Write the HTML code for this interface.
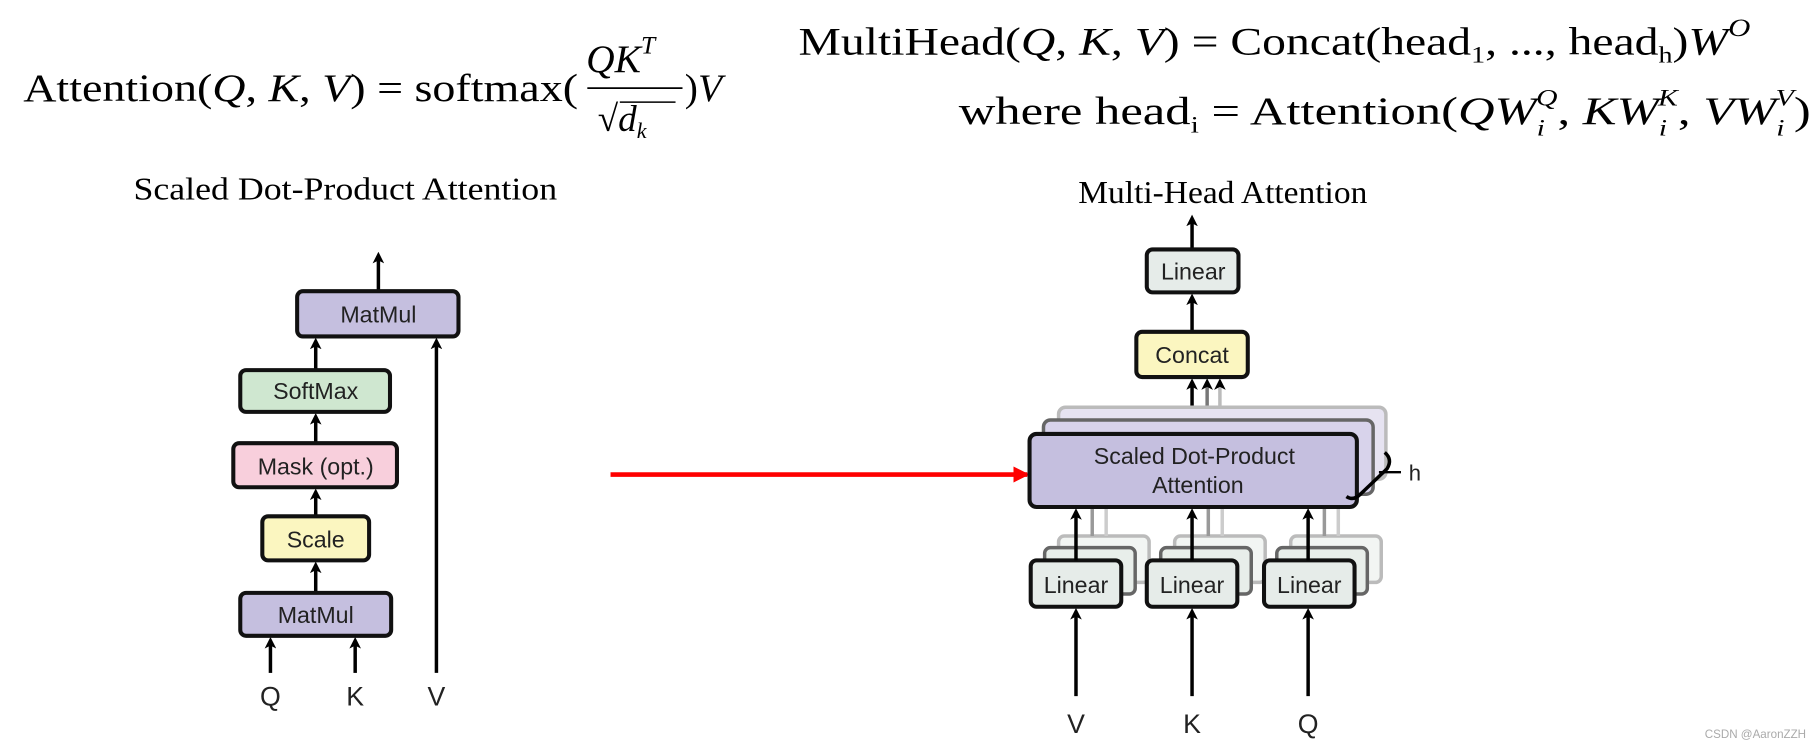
<!DOCTYPE html>
<html><head><meta charset="utf-8"><style>
html,body{margin:0;padding:0;background:#fff;}
svg{display:block}
.m{font-family:"Liberation Serif",serif;fill:#000}
.s{font-family:"Liberation Sans",sans-serif;fill:#222}
</style></head><body>
<svg width="1820" height="746" viewBox="0 0 1568 643" preserveAspectRatio="none" xmlns="http://www.w3.org/2000/svg">
<defs>
<marker id="a" markerWidth="10" markerHeight="10" refX="5" refY="5" orient="auto" markerUnits="userSpaceOnUse"><path d="M0,0 L10,5 L0,10 L2.5,5z" fill="#000"/></marker>
<marker id="r" markerWidth="14" markerHeight="14" refX="12" refY="7" orient="auto" markerUnits="userSpaceOnUse"><path d="M0,0 L14,7 L0,14z" fill="#f00"/></marker>
</defs>
<!-- formulas -->
<text class="m" x="20" y="87" font-size="34" textLength="478" lengthAdjust="spacingAndGlyphs">Attention(<tspan font-style="italic">Q</tspan>, <tspan font-style="italic">K</tspan>, <tspan font-style="italic">V</tspan>) = softmax(</text>
<text class="m" x="505" y="62" font-size="34" font-style="italic">QK<tspan font-size="22" dy="-16">T</tspan></text>
<line x1="506" y1="76" x2="588" y2="76" stroke="#000" stroke-width="1.5"/>
<text class="m" x="515" y="113" font-size="32">√<tspan font-style="italic">d</tspan><tspan font-size="19" font-style="italic" dy="6">k</tspan></text>
<line x1="534" y1="88" x2="582" y2="88" stroke="#000" stroke-width="1.3"/>
<text class="m" x="590" y="87" font-size="34">)<tspan font-style="italic">V</tspan></text>
<text class="m" x="688" y="47" font-size="34" textLength="820" lengthAdjust="spacingAndGlyphs">MultiHead(<tspan font-style="italic">Q</tspan>, <tspan font-style="italic">K</tspan>, <tspan font-style="italic">V</tspan>) = Concat(head<tspan font-size="20" dy="7">1</tspan><tspan dy="-7">, ..., head</tspan><tspan font-size="20" dy="7">h</tspan><tspan dy="-7">)</tspan><tspan font-style="italic">W</tspan><tspan font-size="22" font-style="italic" dy="-16">O</tspan></text>
<text class="m" x="826" y="107" font-size="34" textLength="734" lengthAdjust="spacingAndGlyphs">where head<tspan font-size="20" dy="7">i</tspan><tspan dy="-7"> = Attention(</tspan><tspan font-style="italic">QW</tspan><tspan font-size="20" font-style="italic" dy="10">i</tspan><tspan font-size="20" font-style="italic" dx="-6" dy="-26">Q</tspan><tspan dy="16">, </tspan><tspan font-style="italic">KW</tspan><tspan font-size="20" font-style="italic" dy="10">i</tspan><tspan font-size="20" font-style="italic" dx="-6" dy="-26">K</tspan><tspan dy="16">, </tspan><tspan font-style="italic">VW</tspan><tspan font-size="20" font-style="italic" dy="10">i</tspan><tspan font-size="20" font-style="italic" dx="-6" dy="-26">V</tspan><tspan dy="16">)</tspan></text>
<!-- titles -->
<text class="m" x="115" y="172" font-size="27" textLength="365" lengthAdjust="spacingAndGlyphs">Scaled Dot-Product Attention</text>
<text class="m" x="929" y="175" font-size="27" textLength="249" lengthAdjust="spacingAndGlyphs">Multi-Head Attention</text>
<!-- left diagram -->
<g stroke="#000" stroke-width="3" fill="none">
<line x1="326" y1="250" x2="326" y2="222" marker-end="url(#a)"/>
<line x1="272" y1="318" x2="272" y2="296" marker-end="url(#a)"/>
<line x1="272" y1="381" x2="272" y2="361" marker-end="url(#a)"/>
<line x1="272" y1="444" x2="272" y2="426" marker-end="url(#a)"/>
<line x1="272" y1="510" x2="272" y2="489" marker-end="url(#a)"/>
<line x1="376" y1="580" x2="376" y2="296" marker-end="url(#a)"/>
<line x1="233" y1="580" x2="233" y2="554" marker-end="url(#a)"/>
<line x1="306" y1="580" x2="306" y2="554" marker-end="url(#a)"/>
</g>
<g stroke="#111" stroke-width="3.5">
<rect x="256" y="251" width="139" height="39" rx="5" fill="#c5bfdf"/>
<rect x="207" y="319" width="129" height="36" rx="5" fill="#cfe7d0"/>
<rect x="201" y="382" width="141" height="38" rx="5" fill="#f8cfdc"/>
<rect x="226" y="445" width="92" height="38" rx="5" fill="#fbf6c0"/>
<rect x="207" y="511" width="130" height="37" rx="5" fill="#c5bfdf"/>
</g>
<g class="s" font-size="20" text-anchor="middle">
<text x="326" y="278">MatMul</text>
<text x="272" y="344">SoftMax</text>
<text x="272" y="409">Mask (opt.)</text>
<text x="272" y="472">Scale</text>
<text x="272" y="537">MatMul</text>
<text x="233" y="608" font-size="23">Q</text>
<text x="306" y="608" font-size="23">K</text>
<text x="376" y="608" font-size="23">V</text>
</g>
<!-- red arrow -->
<line x1="526" y1="409" x2="885" y2="409" stroke="#f00" stroke-width="4" marker-end="url(#r)"/>
<!-- right diagram -->
<g stroke="#000" stroke-width="3" fill="none">
<line x1="1027" y1="215" x2="1027" y2="190" marker-end="url(#a)"/>
<line x1="1027" y1="285" x2="1027" y2="258" marker-end="url(#a)"/>
<line x1="1027" y1="373" x2="1027" y2="331" marker-end="url(#a)"/>
</g>
<g stroke-width="3" fill="none">
<line x1="1040" y1="360" x2="1040" y2="331" stroke="#777" marker-end="url(#a)"/>
<line x1="1051" y1="350" x2="1051" y2="331" stroke="#bbb" marker-end="url(#a)"/>
</g>
<rect x="912" y="351" width="282" height="62" rx="6" fill="#e6e3f1" stroke="#bbb" stroke-width="3"/>
<rect x="899" y="362" width="284" height="64" rx="6" fill="#d8d3eb" stroke="#666" stroke-width="3"/>
<g stroke-width="3">
<g fill="#f2f5f3" stroke="#bbb"><rect x="912" y="462" width="78" height="40" rx="5"/><rect x="1012" y="462" width="78" height="40" rx="5"/><rect x="1112" y="462" width="78" height="40" rx="5"/></g>
<g fill="#e8eeea" stroke="#666"><rect x="900" y="472" width="78" height="40" rx="5"/><rect x="1000" y="472" width="78" height="40" rx="5"/><rect x="1100" y="472" width="78" height="40" rx="5"/></g>
</g>
<g stroke="#999" stroke-width="3"><line x1="941" y1="437" x2="941" y2="462"/><line x1="1041" y1="437" x2="1041" y2="462"/><line x1="1141" y1="437" x2="1141" y2="462"/><line x1="953" y1="437" x2="953" y2="462" stroke="#ccc"/><line x1="1053" y1="437" x2="1053" y2="462" stroke="#ccc"/><line x1="1153" y1="437" x2="1153" y2="462" stroke="#ccc"/></g>
<g stroke="#111" stroke-width="3.5">
<rect x="988" y="215" width="79" height="37" rx="5" fill="#e6ece9"/>
<rect x="979" y="286" width="96" height="39" rx="5" fill="#fbf6c0"/>
<rect x="887" y="374" width="282" height="63" rx="6" fill="#c5bfdf"/>
<rect x="888" y="483" width="78" height="40" rx="5" fill="#e6ece9"/>
<rect x="988" y="483" width="78" height="40" rx="5" fill="#e6ece9"/>
<rect x="1089" y="483" width="78" height="40" rx="5" fill="#e6ece9"/>
</g>
<g stroke="#000" stroke-width="3" fill="none">
<line x1="927" y1="483" x2="927" y2="443" marker-end="url(#a)"/>
<line x1="1027" y1="483" x2="1027" y2="443" marker-end="url(#a)"/>
<line x1="1127" y1="483" x2="1127" y2="443" marker-end="url(#a)"/>
<line x1="927" y1="600" x2="927" y2="529" marker-end="url(#a)"/>
<line x1="1027" y1="600" x2="1027" y2="529" marker-end="url(#a)"/>
<line x1="1127" y1="600" x2="1127" y2="529" marker-end="url(#a)"/>
<path d="M1193,390 Q1200,396 1195,404 L1172,426 Q1166,432 1160,428"/>
<line x1="1188" y1="407" x2="1207" y2="407" stroke-width="2"/>
</g>
<g class="s" font-size="20" text-anchor="middle">
<text x="1028" y="241">Linear</text>
<text x="1027" y="313">Concat</text>
<text x="1029" y="400">Scaled Dot-Product</text>
<text x="1032" y="425">Attention</text>
<text x="927" y="511">Linear</text>
<text x="1027" y="511">Linear</text>
<text x="1128" y="511">Linear</text>
<text x="1219" y="414" font-size="19">h</text>
<text x="927" y="632" font-size="23">V</text>
<text x="1027" y="632" font-size="23">K</text>
<text x="1127" y="632" font-size="23">Q</text>
</g>
<text class="s" x="1556" y="636" font-size="10" text-anchor="end" style="fill:#aaa">CSDN @AaronZZH</text>
</svg>
</body></html>
